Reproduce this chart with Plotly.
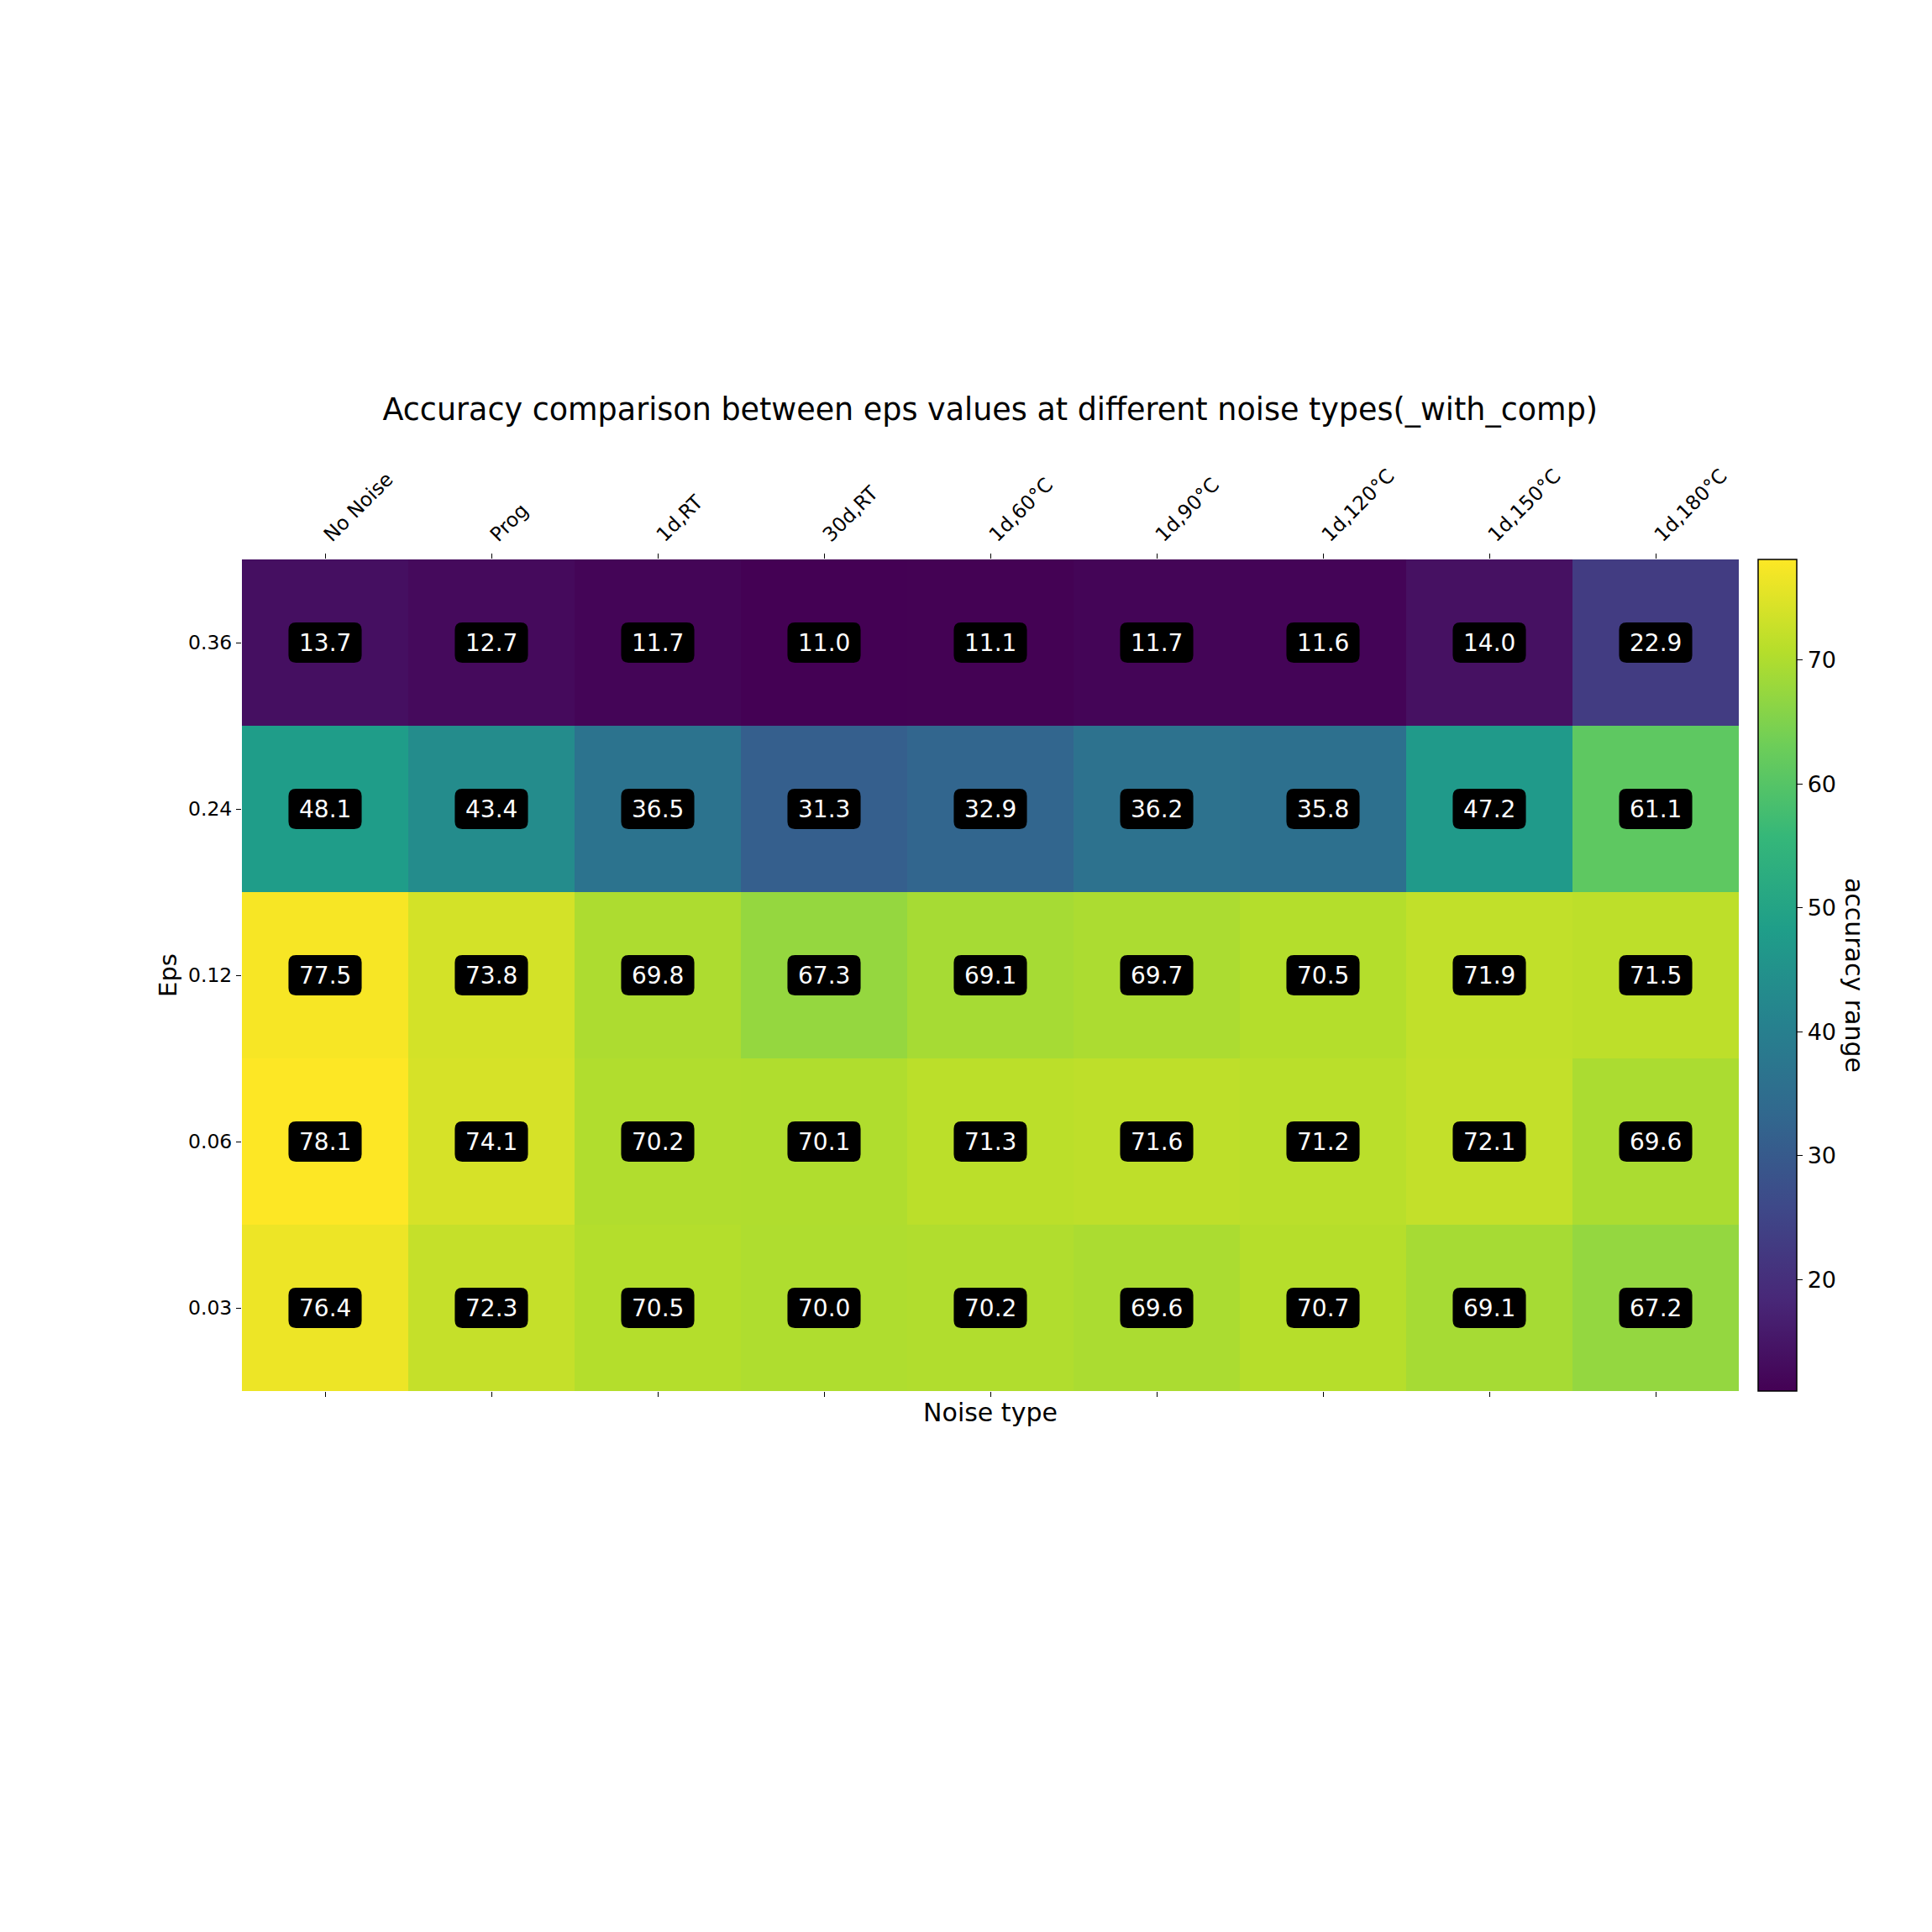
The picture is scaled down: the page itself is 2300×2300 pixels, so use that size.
import plotly.graph_objects as go

noise_types = ["No Noise", "Prog", "1d,RT", "30d,RT", "1d,60°C", "1d,90°C", "1d,120°C", "1d,150°C", "1d,180°C"]
eps_labels = ["0.03", "0.06", "0.12", "0.24", "0.36"]  # bottom -> top

acc_003 = [76.4, 72.3, 70.5, 70.0, 70.2, 69.6, 70.7, 69.1, 67.2]
acc_006 = [78.1, 74.1, 70.2, 70.1, 71.3, 71.6, 71.2, 72.1, 69.6]
acc_012 = [77.5, 73.8, 69.8, 67.3, 69.1, 69.7, 70.5, 71.9, 71.5]
acc_024 = [48.1, 43.4, 36.5, 31.3, 32.9, 36.2, 35.8, 47.2, 61.1]
acc_036 = [13.7, 12.7, 11.7, 11.0, 11.1, 11.7, 11.6, 14.0, 22.9]

z = [acc_003, acc_006, acc_012, acc_024, acc_036]
xs = list(range(len(noise_types)))
ys = list(range(len(eps_labels)))
zmin = min(min(r) for r in z)
zmax = max(max(r) for r in z)

FONT = "DejaVu Sans"
W, H = 2300, 2300
L, R, T, B = 287.5, 230, 666, 644

fig = go.Figure()
fig.add_trace(go.Heatmap(
    z=z, x=xs, y=ys, colorscale="Viridis", zmin=zmin, zmax=zmax,
    showscale=True, hoverinfo="skip",
    colorbar=dict(
        x=1.0129, xanchor="left", xref="paper", y=0.5, yanchor="middle",
        len=1.0, lenmode="fraction", thickness=46, thicknessmode="pixels",
        outlinewidth=1.5, outlinecolor="black",
        tickvals=[20, 30, 40, 50, 60, 70], ticks="outside", ticklen=7,
        tickcolor="black", tickfont=dict(family=FONT, size=27, color="black"),
        ypad=0, xpad=0,
    ),
))
# dummy trace to carry the top axis
fig.add_trace(go.Scatter(x=xs, y=[2] * len(xs), xaxis="x2", mode="markers",
                         marker=dict(opacity=0), hoverinfo="skip", showlegend=False))

bw, bh, rr = 0.44, 0.242, 0.045
shapes = []
annotations = []
for j, row in enumerate(z):
    for i, v in enumerate(row):
        x0, x1 = i - bw / 2, i + bw / 2
        y0, y1 = j - bh / 2, j + bh / 2
        ry = rr
        path = (f"M {x0+rr},{y0} L {x1-rr},{y0} Q {x1},{y0} {x1},{y0+ry} "
                f"L {x1},{y1-ry} Q {x1},{y1} {x1-rr},{y1} L {x0+rr},{y1} "
                f"Q {x0},{y1} {x0},{y1-ry} L {x0},{y0+ry} Q {x0},{y0} {x0+rr},{y0} Z")
        shapes.append(dict(type="path", path=path, xref="x", yref="y",
                           fillcolor="black", line=dict(width=0), layer="above"))
        annotations.append(dict(x=i, y=j, xref="x", yref="y", text=f"{v:.1f}",
                                showarrow=False,
                                font=dict(family=FONT, size=28, color="white")))

annotations.append(dict(x=1.0775, y=0.5, xref="paper", yref="paper",
                        text="accuracy range", textangle=90, showarrow=False,
                        xanchor="center", yanchor="middle",
                        font=dict(family=FONT, size=30, color="black")))

fig.update_layout(
    width=W, height=H,
    margin=dict(l=L, r=R, t=T, b=B, autoexpand=False),
    paper_bgcolor="white", plot_bgcolor="white",
    font=dict(family=FONT, color="black"),
    title=dict(text="Accuracy comparison between eps values at different noise types(_with_comp)",
               x=(L + (W - L - R) / 2) / W, xanchor="center",
               y=1 - 487 / H, yanchor="middle",
               font=dict(family=FONT, size=36.5, color="black")),
    xaxis=dict(range=[-0.5, len(xs) - 0.5], tickvals=xs, ticktext=[""] * len(xs),
               ticks="outside", ticklen=6, tickcolor="black", showgrid=False,
               zeroline=False, showline=False,
               title=dict(text="Noise type", standoff=6,
                          font=dict(family=FONT, size=30, color="black"))),
    xaxis2=dict(range=[-0.5, len(xs) - 0.5], tickvals=xs, ticktext=noise_types,
                overlaying="x", side="top", anchor="y", matches="x",
                ticks="outside", ticklen=6, tickcolor="black", tickangle=-45,
                showgrid=False, zeroline=False, showline=False,
                tickfont=dict(family=FONT, size=23.5, color="black")),
    yaxis=dict(range=[-0.5, len(ys) - 0.5], tickvals=ys, ticktext=eps_labels,
               ticks="outside", ticklen=6, tickcolor="black", showgrid=False,
               zeroline=False, showline=False,
               tickfont=dict(family=FONT, size=23.5, color="black"),
               title=dict(text="Eps", standoff=4,
                          font=dict(family=FONT, size=29, color="black"))),
    shapes=shapes, annotations=annotations,
)

fig.write_html("out.html")
